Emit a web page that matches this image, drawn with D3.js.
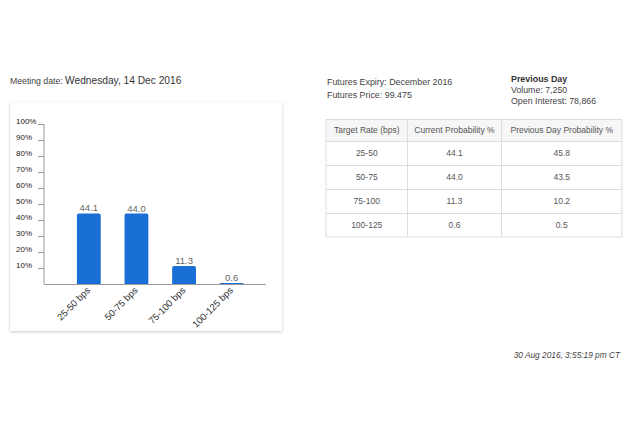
<!DOCTYPE html>
<html>
<head>
<meta charset="utf-8">
<script src="https://cdn.jsdelivr.net/npm/d3@7"></script>
<style>
  body { margin: 0; background: #fff; font-family: "Liberation Sans", Arial, sans-serif; }
  text { font-family: "Liberation Sans", Arial, sans-serif; }
</style>
</head>
<body>
<svg id="page" width="630" height="434"></svg>
<script>
// chart data
var categories = ['25-50 bps', '50-75 bps', '75-100 bps', '100-125 bps'];
var probabilities = [44.1, 44.0, 11.3, 0.6];
var yTicks = [10, 20, 30, 40, 50, 60, 70, 80, 90, 100];

// table data
var tableHeader = ['Target Rate (bps)', 'Current Probability %', 'Previous Day Probability %'];
var targetRates = ['25-50', '50-75', '75-100', '100-125'];
var currentProb = ['44.1', '44.0', '11.3', '0.6'];
var previousProb = ['45.8', '43.5', '10.2', '0.5'];

var svg = d3.select('#page');

var defs = svg.append('defs');
var shadow = defs.append('filter').attr('id', 'card-shadow')
    .attr('x', '-5%').attr('y', '-5%').attr('width', '110%').attr('height', '110%');
shadow.append('feDropShadow')
    .attr('dx', 0).attr('dy', 1).attr('stdDeviation', 1.6)
    .attr('flood-color', '#000').attr('flood-opacity', 0.22);

// meeting date header
var md = svg.append('text').attr('x', 10).attr('y', 84).attr('fill', '#444');
md.append('tspan').attr('font-size', 8.7).text('Meeting date: ');
md.append('tspan').attr('font-size', 10.2).attr('fill', '#333').text('Wednesday, 14 Dec 2016');

// card
svg.append('rect')
    .attr('x', 10).attr('y', 102).attr('width', 272).attr('height', 229)
    .attr('fill', '#fff').attr('filter', 'url(#card-shadow)');

var x = d3.scaleBand()
    .domain(categories)
    .range([65, 255.5])
    .paddingInner(0.5)
    .paddingOuter(0.25);

var y = d3.scaleLinear()
    .domain([0, 100])
    .range([284, 124]);

var g = svg.append('g');

// y axis
var yAxis = g.append('g').attr('transform', 'translate(44,0)')
    .call(d3.axisLeft(y).tickValues(yTicks).tickSize(6).tickFormat(function(d){ return d + '%'; }));
yAxis.select('.domain').attr('stroke', '#999').attr('d', 'M0,' + y(100) + 'V' + y(0));
yAxis.selectAll('.tick line').attr('stroke', '#999');
yAxis.selectAll('.tick text')
    .attr('text-anchor', 'start')
    .attr('x', -28)
    .attr('dy', '-0.05em')
    .attr('font-size', 8)
    .attr('fill', '#222');

// x axis
var xAxis = g.append('g').attr('transform', 'translate(0,' + y(0) + ')')
    .call(d3.axisBottom(x).tickSize(0).tickPadding(0));
xAxis.select('.domain').attr('stroke', '#999').attr('d', 'M44,0.5H266');
xAxis.selectAll('.tick text')
    .attr('text-anchor', 'end')
    .attr('dy', 0)
    .attr('transform', 'translate(2,7) rotate(-45)')
    .attr('font-size', 9.5)
    .attr('fill', '#333');

// bars
g.selectAll('.bar')
    .data(probabilities)
    .enter().append('path')
    .attr('class', 'bar')
    .attr('fill', '#1a6fd6')
    .attr('d', function(d, i) {
        var x0 = x(categories[i]), w = x.bandwidth();
        var top = y(d), bot = y(0), r = Math.min(2, bot - top);
        return 'M' + x0 + ',' + bot + 'V' + (top + r) +
            'Q' + x0 + ',' + top + ' ' + (x0 + r) + ',' + top +
            'H' + (x0 + w - r) +
            'Q' + (x0 + w) + ',' + top + ' ' + (x0 + w) + ',' + (top + r) +
            'V' + bot + 'Z';
    });

// value labels
g.selectAll('.val')
    .data(probabilities)
    .enter().append('text')
    .attr('class', 'val')
    .attr('x', function(d, i){ return x(categories[i]) + x.bandwidth() / 2; })
    .attr('y', function(d){ return y(d) - 2; })
    .attr('text-anchor', 'middle')
    .attr('font-size', 9.5)
    .attr('fill', '#666')
    .text(function(d){ return d.toFixed(1); });

// futures info
svg.append('text').attr('x', 327).attr('y', 85).attr('font-size', 8.9).attr('fill', '#444')
    .text('Futures Expiry: December 2016');
svg.append('text').attr('x', 327).attr('y', 98).attr('font-size', 8.9).attr('fill', '#444')
    .text('Futures Price: 99.475');

svg.append('text').attr('x', 511).attr('y', 82).attr('font-size', 8.9).attr('font-weight', 'bold').attr('fill', '#333')
    .text('Previous Day');
svg.append('text').attr('x', 511).attr('y', 93).attr('font-size', 8.8).attr('fill', '#444')
    .text('Volume: 7,250');
svg.append('text').attr('x', 511).attr('y', 104).attr('font-size', 8.8).attr('fill', '#444')
    .text('Open Interest: 78,866');

// table
var colEdges = [326, 407.5, 501.5, 622];
var rowEdges = [119.5, 141.5, 165.5, 189.5, 213.5, 237];
var t = svg.append('g');

t.append('rect')
    .attr('x', colEdges[0]).attr('y', rowEdges[0])
    .attr('width', colEdges[3] - colEdges[0]).attr('height', rowEdges[1] - rowEdges[0])
    .attr('fill', '#f6f6f6');

t.selectAll('.hline')
    .data(rowEdges)
    .enter().append('line')
    .attr('x1', colEdges[0]).attr('x2', colEdges[3])
    .attr('y1', function(d){ return d; }).attr('y2', function(d){ return d; })
    .attr('stroke', '#ddd');

t.selectAll('.vline')
    .data(colEdges)
    .enter().append('line')
    .attr('y1', rowEdges[0]).attr('y2', rowEdges[rowEdges.length - 1])
    .attr('x1', function(d){ return d; }).attr('x2', function(d){ return d; })
    .attr('stroke', '#ddd');

var rows = [tableHeader].concat(targetRates.map(function(r, i){
    return [r, currentProb[i], previousProb[i]];
}));

rows.forEach(function(row, ri) {
    row.forEach(function(cell, ci) {
        t.append('text')
            .attr('x', (colEdges[ci] + colEdges[ci + 1]) / 2)
            .attr('y', (rowEdges[ri] + rowEdges[ri + 1]) / 2)
            .attr('dy', '0.35em')
            .attr('text-anchor', 'middle')
            .attr('font-size', 8.5)
            .attr('fill', '#555')
            .text(cell);
    });
});

// timestamp
svg.append('text').attr('x', 620).attr('y', 358).attr('text-anchor', 'end')
    .attr('font-size', 8.3).attr('font-style', 'italic').attr('fill', '#444')
    .text('30 Aug 2016, 3:55:19 pm CT');
</script>
</body>
</html>
